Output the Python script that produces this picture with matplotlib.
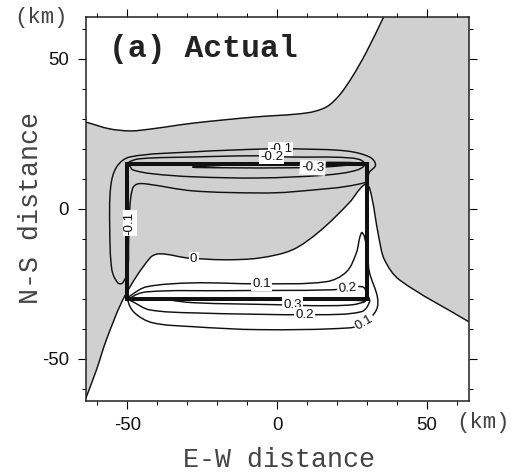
import numpy as np
import matplotlib
matplotlib.use("Agg")
import matplotlib.pyplot as plt
from matplotlib.path import Path
from matplotlib.patches import PathPatch

# Zero contour, upper edge of the shaded area
zero_top_x = [-64, -56, -49, -42.5, -28, -8, 9.8, 16.4, 20.8, 25, 29.8, 35.5]
zero_top_y = [29, 26.7, 26, 26.6, 28.6, 30.6, 32, 34, 38, 44, 52.4, 64]

# Zero contour, lower edge of the shaded area
zero_low_x = [-64, -60.3, -57, -51, -42.5, -39.2, -30, -25, -17, -6, 5, 14, 24, 29, 30.8, 34, 35.8, 40.8, 64]
zero_low_y = [-63.5, -53.6, -43.6, -29.3, -16.4, -15, -16.4, -16.7, -17, -16.4, -13.7, -7.6, 2, 8, 7, -10, -17, -23.7, -37.7]

# Closed contours
neg1_x = [30.8, 32.8, 30.8, 23.1, 6.4, -3.6, -28.2, -49.2, -53.6, -55.6, -55.9, -55.2, -53.2, -51.6, -49.9, -49.6,
          -49.2, -48.2, -46.6, -43.6, -28.2, -5.9, 5.1, 29.1]
neg1_y = [12.3, 14.7, 17.3, 19.3, 20, 20, 19, 17.3, 14, 7.3, -7, -20.3, -24.7, -24.7, -20.3, -10.3,
          0.7, 7, 8.3, 8.3, 6, 5.3, 5.7, 8.7]
neg2_x = [-49.9, -45.9, -28.2, -6.9, 4.1, 24.1, 29.1, 26.8, 16.4, -5.9, -28.2, -41.6, -48.2, -49.2]
neg2_y = [15.3, 16.7, 17.3, 17.7, 17.3, 17, 15.3, 13, 11.3, 10.3, 10.7, 11.7, 13, 14.3]
neg3_x = [-27.6, -16.9, 5.1, 16.4, 27.4, 0]
neg3_y = [14, 13.7, 13.7, 14, 15.3, 15]
pos1_x = [-49.9, -48.6, -43.6, -28.2, -5.9, 16.4, 23.1, 26.4, 28.1, 29.1, 30.1, 30.8, 33.4, 33.1, 29.1, 24.1, -5.9,
          -28.2, -41.6, -47.6]
pos1_y = [-30.3, -28.7, -26, -24.7, -25, -24.3, -21, -14.7, -8, -9.3, -15.3, -21.3, -29.3, -33.7, -38, -39.7, -40.3,
          -39.3, -38, -34.7]
pos2_x = [-49.2, -43.6, -16.9, 18.4, 28.4, 30.1, 30.8, 28.1, 13.1, -28.2, -42.6, -47.6]
pos2_y = [-30, -27.7, -27.3, -27, -26, -28.7, -31, -34.3, -35.3, -34.7, -33.7, -31.3]
pos3_x = [-34.9, -28.2, 0.8, 11.8, 25.1, 29.1, 0]
pos3_y = [-30.3, -31.3, -32, -32.3, -32, -30.7, -30]

# Fault outline
fault_x = [-50, 30, 30, -50, -50]
fault_y = [15, 15, -30, -30, 15]

# Contour labels: text, x, y, rotation
label_text = ["-0.1", "-0.2", "-0.3", "-0.1", "0", "0.1", "0.2", "0.3", "0.2", "0.1"]
label_x = [1.1, -1.9, 11.8, -49.2, -27.9, -5.2, 23.5, 5.2, 9.2, 29.1]
label_y = [20, 17.3, 13.7, -4.7, -16.7, -25, -26.5, -32, -35.3, -38]
label_rot = [0, 0, -3, 90, 0, 0, 4, 0, 0, 30]

tick_major = [-50, 0, 50]
tick_minor = [-60, -40, -30, -20, -10, 10, 20, 30, 40, 60]


# Bezier segments through the read points, so the contours come out smooth
def smooth(xs, ys, closed=False):
    p = np.column_stack([xs, ys]).astype(float)
    n = len(p)

    def tangent(i):
        if closed:
            d = p[(i + 1) % n] - p[(i - 1) % n]
        else:
            d = p[min(i + 1, n - 1)] - p[max(i - 1, 0)]
        return d / max(np.hypot(*d), 1e-9)

    verts = [p[0]]
    codes = [Path.MOVETO]
    for i in range(n if closed else n - 1):
        j = (i + 1) % n
        h = np.hypot(*(p[j] - p[i])) / 3
        verts += [p[i] + tangent(i) * h, p[j] - tangent(j) * h, p[j]]
        codes += [Path.CURVE4] * 3
    return verts, codes


fig = plt.figure(figsize=(5.14, 4.73), dpi=100)
ax = fig.add_axes([85.5 / 514, 72.3 / 473, 383.5 / 514, 383.7 / 473])
ax.set_xlim(-64, 64)
ax.set_ylim(-64, 64)

# shaded area between the two branches of the zero contour
v1, c1 = smooth(zero_top_x, zero_top_y)
v2, c2 = smooth(zero_low_x[::-1], zero_low_y[::-1])
verts = v1 + [(64, 64), (64, zero_low_y[-1])] + v2[1:] + [v1[0], v1[0]]
codes = c1 + [Path.LINETO, Path.LINETO] + c2[1:] + [Path.LINETO, Path.CLOSEPOLY]
ax.add_patch(PathPatch(Path(verts, codes), facecolor="#d0d0d0", edgecolor="none", zorder=1))

lines = [(zero_top_x, zero_top_y, False), (zero_low_x, zero_low_y, False),
         (neg1_x, neg1_y, True), (neg2_x, neg2_y, True), (neg3_x, neg3_y, True),
         (pos1_x, pos1_y, True), (pos2_x, pos2_y, True), (pos3_x, pos3_y, True)]
for xs, ys, closed in lines:
    v, c = smooth(xs, ys, closed)
    ax.add_patch(PathPatch(Path(v, c), facecolor="none", edgecolor="#111111", lw=1.05, zorder=2))

ax.plot(fault_x, fault_y, color="#111111", lw=2.9, solid_joinstyle="miter", zorder=3)

for t, x, y, r in zip(label_text, label_x, label_y, label_rot):
    ax.text(x, y, t, rotation=r, ha="center", va="center", fontsize=9.6, family="Liberation Sans",
            color="#111111", zorder=4, rotation_mode="anchor",
            bbox=dict(facecolor="white", edgecolor="none", pad=1.0))

ax.set_xticks(tick_major)
ax.set_yticks(tick_major)
ax.set_xticks(tick_minor, minor=True)
ax.set_yticks(tick_minor, minor=True)
ax.set_xticklabels(["-50", "0", "50"])
ax.set_yticklabels(["-50", "0", "50"])
ax.tick_params(which="major", direction="out", length=5.8, width=0.8, top=True, right=True,
               labelsize=13.4, pad=6, labelcolor="#111111")
ax.tick_params(which="minor", direction="out", length=2.8, width=0.7, top=True, right=True)
for lab in ax.get_xticklabels() + ax.get_yticklabels():
    lab.set_family("Liberation Sans")
for s in ax.spines.values():
    s.set_linewidth(1.1)
    s.set_color("#222222")
    s.set_zorder(5)

ax.text(109 / 514, 1 - 49 / 473, "(a) Actual", transform=fig.transFigure, family="Liberation Mono",
        fontweight="bold", fontsize=22.6, va="center", ha="left", color="#222222")
fig.text(279 / 514, 1 - 460 / 473, "E-W distance", family="Liberation Mono", fontsize=19.2,
         ha="center", va="center", color="#444444")
fig.text(31 / 514, 1 - 208 / 473, "N-S distance", family="Liberation Mono", fontsize=19.2, rotation=90,
         ha="center", va="center", color="#444444")
fig.text(41 / 514, 1 - 18 / 473, "(km)", family="Liberation Mono", fontsize=16,
         ha="center", va="center", color="#444444")
fig.text(483 / 514, 1 - 422 / 473, "(km)", family="Liberation Mono", fontsize=16,
         ha="center", va="center", color="#444444")

fig.savefig("out.png", dpi=100)
